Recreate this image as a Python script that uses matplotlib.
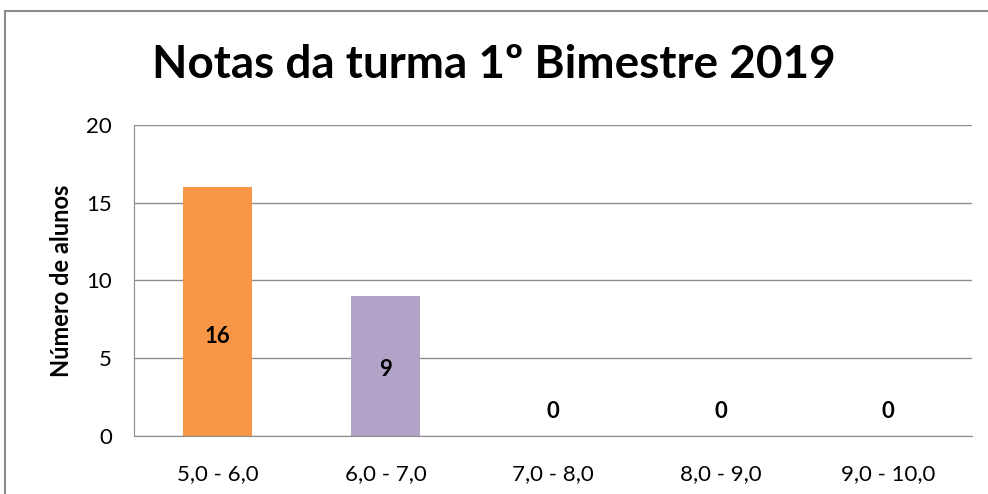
import matplotlib.pyplot as plt
from matplotlib.patches import Rectangle

# Dados do gráfico
faixas = ['5,0 - 6,0', '6,0 - 7,0', '7,0 - 8,0', '8,0 - 9,0', '9,0 - 10,0']
alunos = [16, 9, 0, 0, 0]
cores = ['#F79646', '#B3A2C7', '#4BACC6', '#4BACC6', '#4BACC6']

plt.rcParams['font.family'] = ['Lato', 'DejaVu Sans']

W, H = 988, 494
fig = plt.figure(figsize=(W / 100, H / 100), dpi=100)
ax = fig.add_axes([134 / W, 1 - 436 / H, (972 - 134) / W, (436 - 125) / H])

x = list(range(len(faixas)))
ax.bar(x, alunos, width=0.41, color=cores, zorder=2)

# rótulos de dados
for xi, v in zip(x, alunos):
    ax.text(xi, 1.6 + 0.3 * v, str(v), ha='center', va='center',
            fontsize=16, fontweight='bold', zorder=3)

ax.set_xlim(-0.5, len(faixas) - 0.5)
ax.set_ylim(0, 20)
ax.set_yticks([0, 5, 10, 15, 20])
ax.set_xticks(x)
ax.set_xticklabels(faixas)
ax.tick_params(axis='both', length=0, labelsize=16)
ax.tick_params(axis='x', pad=20)
ax.tick_params(axis='y', pad=16)
ax.grid(axis='y', color='#8c8c8c', linewidth=1, zorder=0)
for s in ['top', 'right']:
    ax.spines[s].set_visible(False)
ax.spines['left'].set_color('#8c8c8c')
ax.spines['bottom'].set_color('#8c8c8c')

ax.set_ylabel('Número de alunos', fontsize=17, fontweight='bold')
ax.yaxis.set_label_coords((73 - 134) / 838, 0.5)
fig.text(0.5, 1 - 65 / H, 'Notas da turma 1º Bimestre 2019', ha='center',
         va='center', fontsize=33, fontweight='bold')

# borda da área do gráfico
fig.patches.append(Rectangle((5 / W, -0.1), 1.2, 1 - 11 / H + 0.1,
                             transform=fig.transFigure, fill=False,
                             edgecolor='#8c8c8c', linewidth=1.5))

fig.savefig('out.png', dpi=100)
